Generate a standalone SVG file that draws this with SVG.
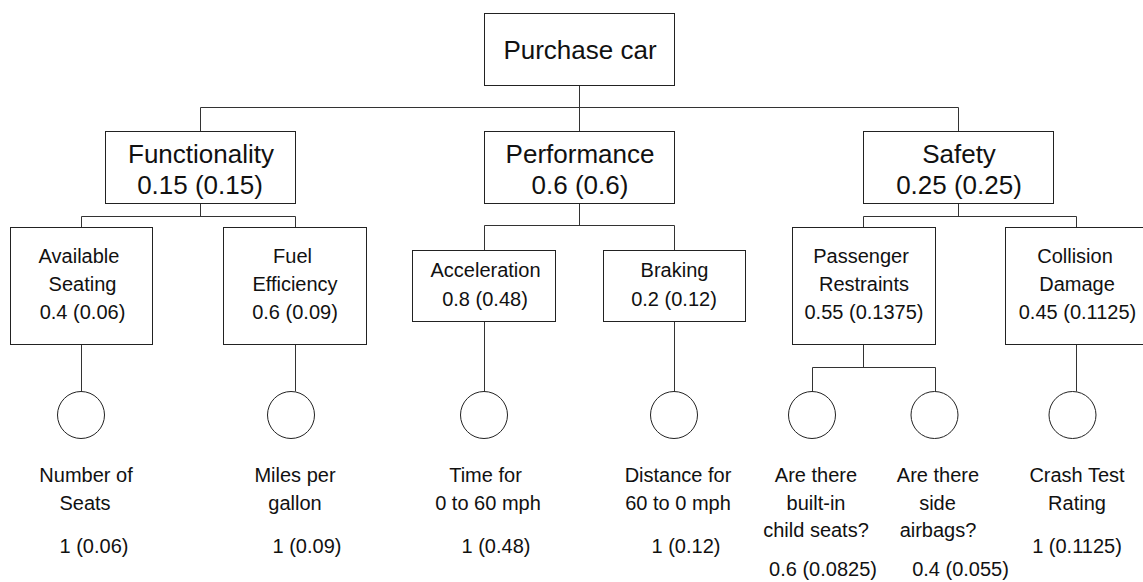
<svg xmlns="http://www.w3.org/2000/svg" width="1143" height="582" viewBox="0 0 1143 582">
<style>
.box{fill:#fff;stroke:#222;stroke-width:1}
.leaf{fill:#fff;stroke:#222;stroke-width:1}
.ln{fill:none;stroke:#333;stroke-width:1}
text{font-family:"Liberation Sans",Arial,sans-serif;fill:#111;text-anchor:middle}
.t1{font-size:26px}
.t2{font-size:20px}
</style>
<rect width="1143" height="582" fill="#fff"/>
<g id="connectors">
<path class="ln" d="M579.5 85V131M200.5 107.5H958.5M200.5 107.5V131M958.5 107.5V131"/>
<path class="ln" d="M200.5 203V216.5M81.5 216.5H295.5M81.5 216.5V227M295.5 216.5V227"/>
<path class="ln" d="M579.5 203V225.5M484.5 225.5H674.5M484.5 225.5V250M674.5 225.5V250"/>
<path class="ln" d="M958.5 203V216.5M863.5 216.5H1076.5M863.5 216.5V227M1076.5 216.5V227"/>
<path class="ln" d="M81.5 344V391.5M295.5 344V391.5M484.5 321V391.5M674.5 321V391.5M1076.5 344V391.5"/>
<path class="ln" d="M863.5 344V367.5M812.5 367.5H935.5M812.5 367.5V391.5M935.5 367.5V391.5"/>
</g>
<g id="purchase-car">
<rect class="box" x="484.5" y="13.5" width="190" height="72"/>
<text class="t1" x="580" y="59">Purchase car</text>
</g>
<g id="functionality">
<rect class="box" x="105.5" y="131.5" width="190" height="72"/>
<text class="t1" x="201" y="163">Functionality</text>
<text class="t1" x="200" y="194">0.15 (0.15)</text>
</g>
<g id="performance">
<rect class="box" x="484.5" y="131.5" width="190" height="72"/>
<text class="t1" x="580" y="163">Performance</text>
<text class="t1" x="580" y="194">0.6 (0.6)</text>
</g>
<g id="safety">
<rect class="box" x="863.5" y="131.5" width="190" height="72"/>
<text class="t1" x="959" y="163">Safety</text>
<text class="t1" x="959" y="194">0.25 (0.25)</text>
</g>
<g id="available-seating">
<rect class="box" x="10.5" y="227.5" width="142" height="117"/>
<text class="t2" x="79" y="263">Available</text>
<text class="t2" x="82.5" y="291">Seating</text>
<text class="t2" x="82.5" y="319">0.4 (0.06)</text>
</g>
<g id="fuel-efficiency">
<rect class="box" x="223.5" y="227.5" width="143" height="117"/>
<text class="t2" x="292.5" y="263">Fuel</text>
<text class="t2" x="295" y="291">Efficiency</text>
<text class="t2" x="295" y="319">0.6 (0.09)</text>
</g>
<g id="acceleration">
<rect class="box" x="412.5" y="250.5" width="143" height="71"/>
<text class="t2" x="485.5" y="277">Acceleration</text>
<text class="t2" x="485" y="306">0.8 (0.48)</text>
</g>
<g id="braking">
<rect class="box" x="603.5" y="250.5" width="142" height="71"/>
<text class="t2" x="674.5" y="277">Braking</text>
<text class="t2" x="674" y="306">0.2 (0.12)</text>
</g>
<g id="passenger-restraints">
<rect class="box" x="792.5" y="227.5" width="143" height="117"/>
<text class="t2" x="861" y="263">Passenger</text>
<text class="t2" x="864" y="291">Restraints</text>
<text class="t2" x="864" y="319">0.55 (0.1375)</text>
</g>
<g id="collision-damage">
<rect class="box" x="1005.5" y="227.5" width="143" height="117"/>
<text class="t2" x="1075" y="263">Collision</text>
<text class="t2" x="1077" y="291">Damage</text>
<text class="t2" x="1077.5" y="319">0.45 (0.1125)</text>
</g>
<g id="number-of-seats">
<circle class="leaf" cx="81" cy="415" r="23.5"/>
<text class="t2" x="86" y="482">Number of</text>
<text class="t2" x="85" y="510">Seats</text>
<text class="t2" x="94" y="553">1 (0.06)</text>
</g>
<g id="miles-per-gallon">
<circle class="leaf" cx="291" cy="415" r="23.5"/>
<text class="t2" x="295" y="482">Miles per</text>
<text class="t2" x="295" y="510">gallon</text>
<text class="t2" x="307" y="553">1 (0.09)</text>
</g>
<g id="time-0-60">
<circle class="leaf" cx="484" cy="415" r="23.5"/>
<text class="t2" x="485.5" y="482">Time for</text>
<text class="t2" x="488" y="510">0 to 60 mph</text>
<text class="t2" x="496" y="553">1 (0.48)</text>
</g>
<g id="distance-60-0">
<circle class="leaf" cx="674" cy="415" r="23.5"/>
<text class="t2" x="678" y="482">Distance for</text>
<text class="t2" x="678" y="510">60 to 0 mph</text>
<text class="t2" x="686" y="553">1 (0.12)</text>
</g>
<g id="child-seats">
<circle class="leaf" cx="812" cy="415" r="23.5"/>
<text class="t2" x="816" y="482">Are there</text>
<text class="t2" x="816" y="510">built-in</text>
<text class="t2" x="816" y="537">child seats?</text>
<text class="t2" x="823" y="576">0.6 (0.0825)</text>
</g>
<g id="side-airbags">
<circle class="leaf" cx="934.5" cy="415" r="23.5"/>
<text class="t2" x="938" y="482">Are there</text>
<text class="t2" x="937.5" y="510">side</text>
<text class="t2" x="938" y="537">airbags?</text>
<text class="t2" x="960.5" y="576">0.4 (0.055)</text>
</g>
<g id="crash-test-rating">
<circle class="leaf" cx="1072.5" cy="415" r="23.5"/>
<text class="t2" x="1077" y="482">Crash Test</text>
<text class="t2" x="1077" y="510">Rating</text>
<text class="t2" x="1077" y="553">1 (0.1125)</text>
</g>
</svg>
